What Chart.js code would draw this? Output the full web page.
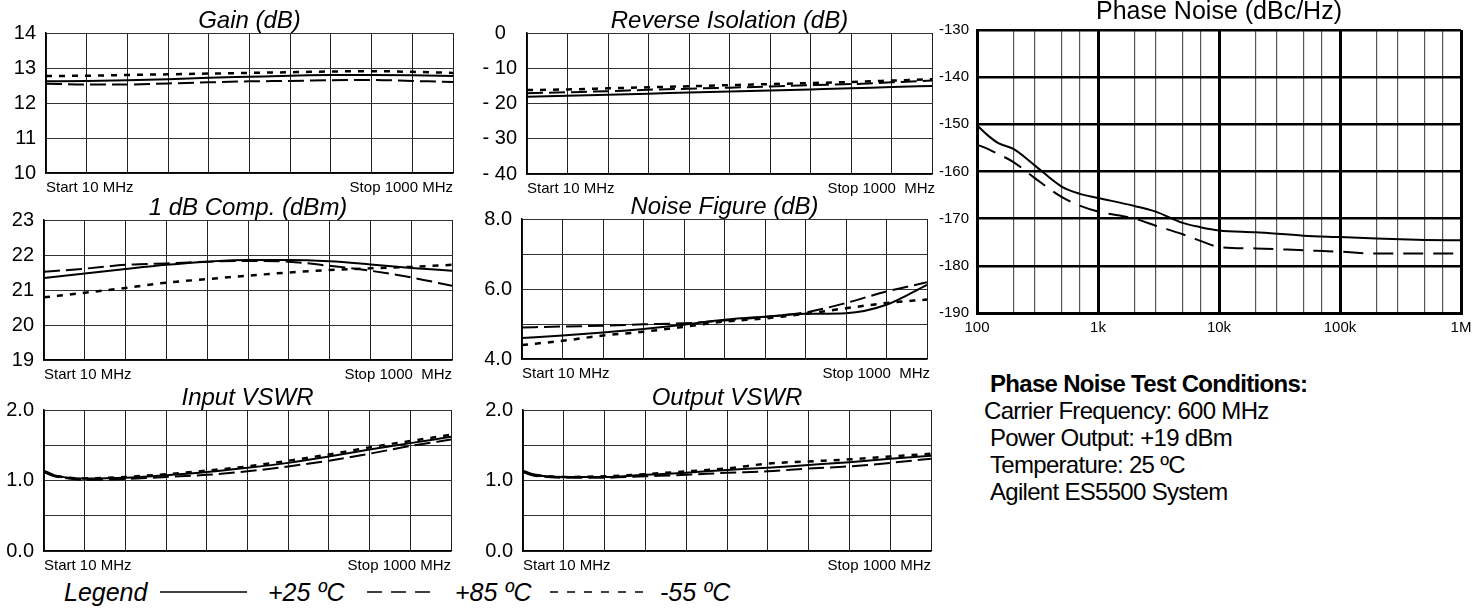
<!DOCTYPE html>
<html>
<head>
<meta charset="utf-8">
<script src="https://cdn.jsdelivr.net/npm/chart.js@4.4.1/dist/chart.umd.min.js"></script>
<style>
  body { margin: 0; background: #fff; width: 1478px; height: 609px; overflow: hidden; position: relative;
         font-family: 'Liberation Sans', Arial, sans-serif; color: #000; }
  canvas { position: absolute; }
  .cond { position: absolute; left: 990px; top: 370px; font-size: 24px; line-height: 27px;
          letter-spacing: -0.7px; white-space: pre; }
  .cond b { margin-left: 0; }
  .leg { position: absolute; top: 577px; font-size: 25px; line-height: 30px; font-style: italic; white-space: pre; }
  #legLines { position: absolute; left: 0; top: 580px; }
</style>
</head>
<body>
<canvas id="gain"></canvas>
<canvas id="revIso"></canvas>
<canvas id="comp"></canvas>
<canvas id="noiseFig"></canvas>
<canvas id="inVswr"></canvas>
<canvas id="outVswr"></canvas>
<canvas id="phaseNoise"></canvas>

<div class="cond"><b>Phase Noise Test Conditions:</b>
<span style="margin-left:-6px">Carrier Frequency: 600 MHz</span>
Power Output: +19 dBm
Temperature: 25 ºC
Agilent ES5500 System</div>

<div class="leg" style="left:64px">Legend</div>
<div class="leg" style="left:268px">+25 ºC</div>
<div class="leg" style="left:455px">+85 ºC</div>
<div class="leg" style="left:660px">-55 ºC</div>
<svg id="legLines" width="760" height="24">
  <line x1="160" y1="12" x2="247" y2="12" stroke="#000" stroke-width="1.5"/>
  <line x1="367" y1="12" x2="430" y2="12" stroke="#000" stroke-width="1.5" stroke-dasharray="15 9"/>
  <line x1="550" y1="12" x2="645" y2="12" stroke="#000" stroke-width="1.5" stroke-dasharray="8 9"/>
</svg>

<script>
// ---------- data ----------

// sweep 10 MHz .. 1000 MHz, in grid divisions 0..10
const divs = [0, 1, 2, 3, 4, 5, 6, 7, 8, 9, 10];
const vswrDivs = [0, 0.25, 0.6, 1, 2, 3, 4, 5, 6, 7, 8, 9, 10];

const gain25 = [12.62, 12.63, 12.65, 12.68, 12.72, 12.75, 12.78, 12.80, 12.80, 12.79, 12.77];
const gain85 = [12.55, 12.53, 12.53, 12.56, 12.59, 12.62, 12.63, 12.65, 12.66, 12.63, 12.60];
const gainM55 = [12.77, 12.78, 12.80, 12.82, 12.84, 12.86, 12.88, 12.90, 12.91, 12.89, 12.86];

const iso25 = [-18.1, -17.8, -17.5, -17.2, -16.9, -16.6, -16.3, -16.0, -15.7, -15.3, -15.0];
const iso85 = [-17.1, -16.8, -16.5, -16.1, -15.8, -15.5, -15.2, -14.8, -14.5, -14.0, -13.5];
const isoM55 = [-16.2, -16.0, -15.7, -15.4, -15.1, -14.8, -14.5, -14.2, -13.9, -13.5, -13.1];

const comp25 = [21.34, 21.47, 21.60, 21.72, 21.81, 21.86, 21.86, 21.82, 21.73, 21.63, 21.55];
const comp85 = [21.52, 21.61, 21.72, 21.76, 21.81, 21.83, 21.81, 21.69, 21.55, 21.36, 21.12];
const compM55 = [20.79, 20.92, 21.06, 21.21, 21.31, 21.41, 21.50, 21.57, 21.62, 21.66, 21.72];

const nf25 = [4.60, 4.67, 4.76, 4.86, 4.98, 5.12, 5.21, 5.29, 5.31, 5.55, 6.12];
const nf85 = [4.90, 4.93, 4.95, 4.99, 5.02, 5.10, 5.20, 5.33, 5.60, 5.93, 6.19];
const nfM55 = [4.40, 4.52, 4.67, 4.78, 4.92, 5.07, 5.16, 5.29, 5.45, 5.60, 5.70];

const inVswr25 = [1.14, 1.076, 1.04, 1.03, 1.04, 1.076, 1.12, 1.18, 1.25, 1.34, 1.44, 1.53, 1.62];
const inVswr85 = [1.12, 1.06, 1.03, 1.01, 1.02, 1.05, 1.08, 1.13, 1.20, 1.28, 1.38, 1.49, 1.58];
const inVswrM55 = [1.13, 1.07, 1.04, 1.03, 1.05, 1.09, 1.14, 1.20, 1.28, 1.37, 1.47, 1.56, 1.65];

const outVswr25 = [1.14, 1.09, 1.06, 1.05, 1.05, 1.08, 1.11, 1.15, 1.18, 1.22, 1.26, 1.31, 1.35];
const outVswr85 = [1.12, 1.07, 1.05, 1.04, 1.04, 1.06, 1.08, 1.11, 1.13, 1.17, 1.20, 1.25, 1.31];
const outVswrM55 = [1.13, 1.08, 1.06, 1.05, 1.06, 1.09, 1.13, 1.17, 1.24, 1.27, 1.30, 1.34, 1.38];

// phase noise, offset in Hz
const pnOffsets = [100, 125, 150, 200, 300, 500, 700, 1000, 2000, 3000, 5000, 7000,
                   10000, 20000, 50000, 100000, 200000, 500000, 1000000];
const pnSolid = [-150.2, -152.5, -154.0, -155.2, -158.7, -163.2, -164.7, -165.6, -167.3, -168.5, -170.9, -171.8,
                 -172.5, -172.9, -173.6, -173.9, -174.2, -174.5, -174.6];
const pnDashed = [-154.3, -155.3, -156.3, -158.0, -161.4, -165.4, -167.2, -168.5, -170.0, -171.5, -173.3, -174.7,
                  -176.0, -176.3, -176.7, -177.0, -177.4, -177.4, -177.4];
const pnDecades = [100, 1000, 10000, 100000, 1000000];
const pnDecadeLabels = ['100', '1k', '10k', '100k', '1M'];
const pnMinorSteps = [2, 3, 5, 7];

// ---------- shared bits ----------

const FONT = "'Liberation Sans', Arial, sans-serif";
Chart.defaults.font.family = FONT;
Chart.defaults.color = '#000';

const lineStyles = {
    p25: { borderDash: [], borderWidth: 2 },
    p85: { borderDash: [16, 6], borderWidth: 2 },
    m55: { borderDash: [6, 7], borderWidth: 2.5 }
};

function series(xs, ys, style) {
    return Object.assign({
        data: xs.map((x, i) => ({ x: x, y: ys[i] })),
        borderColor: '#000',
        pointRadius: 0,
        fill: false,
        cubicInterpolationMode: 'monotone'
    }, style);
}

// titles and start/stop text around a plot
const panelText = {
    id: 'panelText',
    afterDraw(chart, args, opts) {
        const ctx = chart.ctx;
        const a = chart.chartArea;
        ctx.save();
        ctx.fillStyle = '#000';
        ctx.textBaseline = 'alphabetic';
        if (opts.title) {
            ctx.font = opts.titleFont || ('italic 24px ' + FONT);
            ctx.textAlign = 'center';
            ctx.fillText(opts.title, (a.left + a.right) / 2, a.top - (opts.titleGap || 5));
        }
        if (opts.start) {
            ctx.font = '15px ' + FONT;
            ctx.textAlign = 'left';
            ctx.fillText(opts.start, a.left + (opts.startShift || 0), a.bottom + 19);
            ctx.textAlign = 'right';
            ctx.fillText(opts.stop, a.right + (opts.stopShift || 0), a.bottom + 19);
        }
        ctx.restore();
    }
};

// box = plot area on the page
function smallPanel(id, box, p) {
    const yw = 44, top = 33, right = 12, xh = 26;
    const cv = document.getElementById(id);
    const w = box.R - box.L + yw + right;
    const h = box.B - box.T + top + xh;
    cv.width = w; cv.height = h;
    cv.style.left = (box.L - yw) + 'px';
    cv.style.top = (box.T - top) + 'px';

    return new Chart(cv, {
        type: 'line',
        data: {
            datasets: [
                series(p.xs, p.y25, lineStyles.p25),
                series(p.xs, p.y85, lineStyles.p85),
                series(p.xs, p.ym55, lineStyles.m55)
            ]
        },
        options: {
            responsive: false,
            animation: false,
            layout: { padding: { top: top, right: right, left: 0, bottom: 0 } },
            plugins: {
                legend: { display: false },
                tooltip: { enabled: false },
                panelText: { title: p.title, start: 'Start 10 MHz', stop: p.stop, startShift: p.startShift || 0, stopShift: p.stopShift || 0 }
            },
            scales: {
                x: {
                    type: 'linear', min: 0, max: 10,
                    ticks: { display: false, stepSize: 1 },
                    grid: { color: '#222', lineWidth: 1, drawTicks: false },
                    border: { color: '#000', width: 1.5 },
                    afterFit: s => { s.height = xh; }
                },
                y: {
                    min: p.yMin, max: p.yMax,
                    ticks: { stepSize: p.yStep, padding: 10, autoSkip: false, font: { size: 20 }, callback: p.yLabel },
                    grid: { color: '#333', lineWidth: 1, drawTicks: false },
                    border: { color: '#000', width: 1.5 },
                    afterFit: s => { s.width = yw; }
                }
            }
        },
        plugins: [panelText]
    });
}

//========== Gain ==========//
smallPanel('gain', { L: 46, T: 33, R: 453, B: 173 }, {
    title: 'Gain (dB)', stop: 'Stop 1000 MHz',
    xs: divs, y25: gain25, y85: gain85, ym55: gainM55,
    yMin: 10, yMax: 14, yStep: 1, yLabel: v => String(v)
});

//========== Reverse Isolation ==========//
smallPanel('revIso', { L: 527, T: 33, R: 932, B: 174 }, {
    title: 'Reverse Isolation (dB)', stop: 'Stop 1000  MHz', stopShift: 3,
    xs: divs, y25: iso25, y85: iso85, ym55: isoM55,
    yMin: -40, yMax: 0, yStep: 10, yLabel: v => v === 0 ? '0  ' : '- ' + Math.abs(v)
});

//========== 1 dB Comp ==========//
smallPanel('comp', { L: 44, T: 220, R: 452, B: 360 }, {
    title: '1 dB Comp. (dBm)', stop: 'Stop 1000  MHz',
    xs: divs, y25: comp25, y85: comp85, ym55: compM55,
    yMin: 19, yMax: 23, yStep: 1, yLabel: v => String(v)
});

//========== Noise Figure ==========//
smallPanel('noiseFig', { L: 522, T: 219, R: 927, B: 359 }, {
    title: 'Noise Figure (dB)', stop: 'Stop 1000  MHz', stopShift: 3,
    xs: divs, y25: nf25, y85: nf85, ym55: nfM55,
    yMin: 4, yMax: 8, yStep: 1, yLabel: v => v % 2 === 0 ? v.toFixed(1) : ''
});

//========== Input VSWR ==========//
smallPanel('inVswr', { L: 44, T: 410, R: 451, B: 551 }, {
    title: 'Input VSWR', stop: 'Stop 1000 MHz',
    xs: vswrDivs, y25: inVswr25, y85: inVswr85, ym55: inVswrM55,
    yMin: 0, yMax: 2, yStep: 0.5, yLabel: v => v % 1 === 0 ? v.toFixed(1) : ''
});

//========== Output VSWR ==========//
smallPanel('outVswr', { L: 523, T: 410, R: 931, B: 551 }, {
    title: 'Output VSWR', stop: 'Stop 1000 MHz',
    xs: vswrDivs, y25: outVswr25, y85: outVswr85, ym55: outVswrM55,
    yMin: 0, yMax: 2, yStep: 0.5, yLabel: v => v % 1 === 0 ? v.toFixed(1) : ''
});

//========== Phase Noise ==========//

// grid ticks: decades plus a few minor lines inside each decade
const pnGridTicks = [];
pnDecades.forEach((d, i) => {
    pnGridTicks.push(d);
    if (i < pnDecades.length - 1) pnMinorSteps.forEach(m => pnGridTicks.push(m * d));
});
const isDecade = v => pnDecades.indexOf(v) !== -1;

const pnCanvas = document.getElementById('phaseNoise');
pnCanvas.width = 553; pnCanvas.height = 343;
pnCanvas.style.left = '925px'; pnCanvas.style.top = '0px';

const phaseNoiseChart = new Chart(pnCanvas, {
    type: 'line',
    data: {
        datasets: [
            series(pnOffsets, pnSolid, { borderDash: [], borderWidth: 2 }),
            series(pnOffsets, pnDashed, { borderDash: [20, 10], borderWidth: 2 })
        ]
    },
    options: {
        responsive: false,
        animation: false,
        layout: { padding: { top: 30, right: 17, left: 0, bottom: 0 } },
        plugins: {
            legend: { display: false },
            tooltip: { enabled: false },
            panelText: { title: 'Phase Noise (dBc/Hz)', titleFont: '25px ' + FONT, titleGap: 11 }
        },
        scales: {
            x: {
                type: 'logarithmic', min: 100, max: 1000000,
                afterBuildTicks: s => { s.ticks = pnGridTicks.map(v => ({ value: v })); },
                ticks: {
                    autoSkip: false, maxRotation: 0, padding: 6, font: { size: 15 },
                    callback: v => isDecade(v) ? pnDecadeLabels[pnDecades.indexOf(v)] : ''
                },
                grid: {
                    drawTicks: false,
                    color: c => (c.tick && isDecade(c.tick.value)) ? '#000' : '#555',
                    lineWidth: c => (c.tick && isDecade(c.tick.value)) ? 3 : 1.2
                },
                border: { color: '#000', width: 3 },
                afterFit: s => { s.height = 30; }
            },
            y: {
                min: -190, max: -130,
                ticks: { stepSize: 10, padding: 8, font: { size: 15 }, callback: v => String(v) },
                grid: { color: '#000', lineWidth: 2.5, drawTicks: false },
                border: { color: '#000', width: 3 },
                afterFit: s => { s.width = 52; }
            }
        }
    },
    plugins: [panelText]
});
</script>
</body>
</html>
